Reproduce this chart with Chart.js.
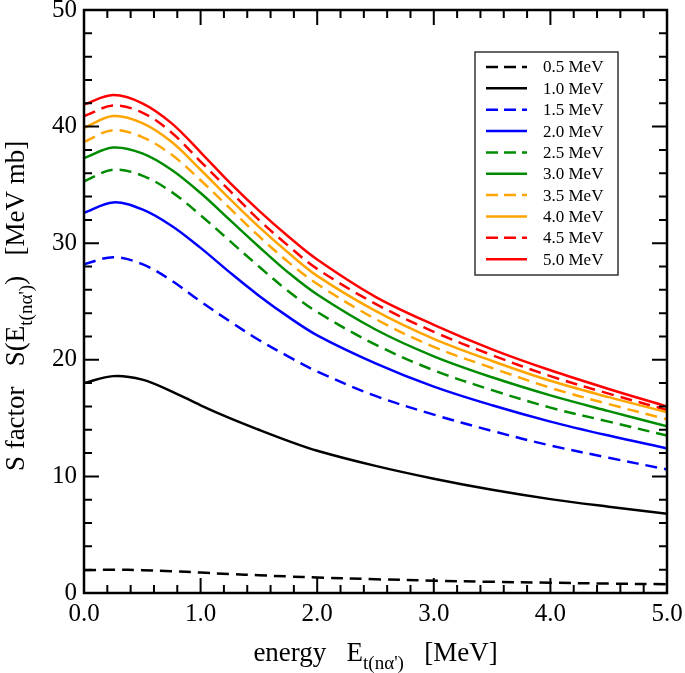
<!DOCTYPE html>
<html>
<head>
<meta charset="utf-8">
<script src="https://cdn.jsdelivr.net/npm/chart.js@4"></script>
<style>
html,body{margin:0;padding:0;background:#fff;}
#wrap{width:685px;height:673px;}
</style>
</head>
<body>
<div id="wrap"><canvas id="c" width="685" height="673"></canvas></div>
<script>
const energies = [0, 0.25, 0.5, 0.75, 1.0, 1.25, 1.5, 1.75, 2.0, 2.5, 3.0, 3.5, 4.0, 4.5, 5.0];
const seriesLabels = ['0.5 MeV','1.0 MeV','1.5 MeV','2.0 MeV','2.5 MeV','3.0 MeV','3.5 MeV','4.0 MeV','4.5 MeV','5.0 MeV'];
const s05 = [1.95, 2.0, 1.96, 1.87, 1.75, 1.63, 1.52, 1.42, 1.33, 1.18, 1.06, 0.96, 0.88, 0.81, 0.75];
const s10 = [18.0, 18.6, 18.3, 17.3, 16.1, 15.0, 14.0, 13.05, 12.2, 10.9, 9.8, 8.85, 8.05, 7.4, 6.8];
const s15 = [28.2, 28.8, 28.2, 26.8, 25.0, 23.3, 21.7, 20.3, 19.0, 16.9, 15.3, 13.9, 12.65, 11.6, 10.6];
const s20 = [32.6, 33.5, 32.9, 31.5, 29.6, 27.5, 25.5, 23.7, 22.1, 19.7, 17.7, 16.1, 14.7, 13.5, 12.4];
const s25 = [35.3, 36.3, 35.8, 34.4, 32.4, 30.2, 28.0, 25.9, 24.1, 21.3, 19.1, 17.4, 15.9, 14.7, 13.5];
const s30 = [37.3, 38.2, 37.7, 36.3, 34.3, 32.0, 29.7, 27.5, 25.6, 22.6, 20.3, 18.5, 16.95, 15.6, 14.3];
const s35 = [38.7, 39.7, 39.1, 37.6, 35.4, 33.0, 30.6, 28.4, 26.5, 23.5, 21.1, 19.3, 17.6, 16.2, 14.9];
const s40 = [39.9, 40.9, 40.3, 38.7, 36.3, 33.8, 31.4, 29.2, 27.2, 24.2, 21.8, 19.9, 18.2, 16.8, 15.5];
const s45 = [40.9, 41.8, 41.2, 39.5, 37.0, 34.5, 32.0, 29.8, 27.8, 24.8, 22.4, 20.4, 18.6, 17.1, 15.7];
const s50 = [41.9, 42.7, 42.0, 40.3, 37.8, 35.2, 32.8, 30.6, 28.6, 25.4, 23.0, 20.9, 19.1, 17.5, 16.0];
const yTicks = [0, 10, 20, 30, 40, 50];
const xTicks = [0, 1, 2, 3, 4, 5];

const GREEN = 'rgb(0,140,0)', ORANGE = 'rgb(255,165,0)';
const colors = ['#000000','#000000','#0000ff','#0000ff',GREEN,GREEN,ORANGE,ORANGE,'#ff0000','#ff0000'];
const dashed = [true,false,true,false,true,false,true,false,true,false];
const allSeries = [s05,s10,s15,s20,s25,s30,s35,s40,s45,s50];
const DASH = [12,7];
const SERIF = '"Liberation Serif", "DejaVu Serif", serif';

const datasets = allSeries.map((arr,i)=>({
  label: seriesLabels[i],
  data: energies.map((x,j)=>({x:x, y:arr[j]})),
  borderColor: colors[i],
  borderWidth: 2.5,
  borderDash: dashed[i] ? DASH : [],
  pointRadius: 0,
  fill: false,
  tension: 0.35
}));

function drawParts(ctx, parts, x, y, align, size, subSize, subDy) {
  let total = 0;
  parts.forEach(p=>{ ctx.font = (p.sub?subSize:size)+'px '+SERIF; p.w = ctx.measureText(p.t).width; total += p.w; });
  let cx = align==='center' ? x - total/2 : x;
  ctx.textBaseline = 'alphabetic';
  ctx.textAlign = 'left';
  parts.forEach(p=>{
    ctx.font = (p.sub?subSize:size)+'px '+SERIF;
    ctx.fillText(p.t, cx, y + (p.sub?subDy:0));
    cx += p.w;
  });
}

const decor = {
  id:'decor',
  afterDatasetsDraw(chart){
    const ctx = chart.ctx, a = chart.chartArea;
    const xs = chart.scales.x, ys = chart.scales.y;
    ctx.save();
    ctx.strokeStyle = '#000';
    ctx.lineWidth = 2.5;
    ctx.setLineDash([]);
    ctx.strokeRect(a.left, a.top, a.right-a.left, a.bottom-a.top);
    ctx.lineWidth = 2;
    for (let k=0;k<=25;k++){
      const px = xs.getPixelForValue(k*0.2);
      const len = (k%5===0)?15:8;
      ctx.beginPath();
      ctx.moveTo(px, a.bottom); ctx.lineTo(px, a.bottom-len);
      ctx.moveTo(px, a.top); ctx.lineTo(px, a.top+len);
      ctx.stroke();
    }
    for (let k=0;k<=25;k++){
      const py = ys.getPixelForValue(k*2);
      const len = (k%5===0)?15:8;
      ctx.beginPath();
      ctx.moveTo(a.left, py); ctx.lineTo(a.left+len, py);
      ctx.moveTo(a.right, py); ctx.lineTo(a.right-len, py);
      ctx.stroke();
    }
    // legend
    const lx0 = 475, ly0 = 52, lw = 143, lh = 223;
    ctx.fillStyle = '#fff';
    ctx.fillRect(lx0, ly0, lw, lh);
    ctx.lineWidth = 1.5;
    ctx.strokeStyle = '#333';
    ctx.strokeRect(lx0, ly0, lw, lh);
    for (let i=0;i<seriesLabels.length;i++){
      const yy = 67 + i*21.35;
      ctx.strokeStyle = colors[i];
      ctx.lineWidth = 2.5;
      ctx.setLineDash(dashed[i]?[12,6]:[]);
      ctx.beginPath(); ctx.moveTo(486, yy); ctx.lineTo(527, yy); ctx.stroke();
      ctx.setLineDash([]);
      ctx.fillStyle = '#000';
      ctx.font = '17px '+SERIF;
      ctx.textAlign = 'left'; ctx.textBaseline = 'middle';
      ctx.fillText(seriesLabels[i], 543, yy+1);
    }
    // axis titles
    ctx.fillStyle = '#000';
    drawParts(ctx, [{t:'energy   E'},{t:"t(nα')",sub:true},{t:'   [MeV]'}], (a.left+a.right)/2, 661, 'center', 27, 19, 8);
    ctx.save();
    ctx.translate(24, 306);
    ctx.rotate(-Math.PI/2);
    drawParts(ctx, [{t:'S factor   S(E'},{t:"t(nα')",sub:true},{t:')   [MeV mb]'}], 0, 0, 'center', 27, 19, 8);
    ctx.restore();
    ctx.restore();
  }
};

new Chart(document.getElementById('c'), {
  type:'line',
  data:{datasets},
  options:{
    responsive:false,
    animation:false,
    layout:{padding:{left:0, top:10, right:18, bottom:0}},
    plugins:{legend:{display:false}, tooltip:{enabled:false}},
    scales:{
      x:{
        type:'linear', min:0, max:5,
        afterBuildTicks(s){ s.ticks = xTicks.map(v=>({value:v})); },
        afterFit(s){ s.height = 80; s.paddingLeft = 0; s.paddingRight = 0; },
        grid:{display:false, drawTicks:false},
        border:{display:false},
        ticks:{color:'#000', font:{family:SERIF, size:25}, padding:6, maxRotation:0,
          callback:(v)=>Number(v).toFixed(1)}
      },
      y:{
        type:'linear', min:0, max:50,
        afterBuildTicks(s){ s.ticks = yTicks.map(v=>({value:v})); },
        afterFit(s){ s.width = 84; s.paddingTop = 0; s.paddingBottom = 0; },
        grid:{display:false, drawTicks:false},
        border:{display:false},
        ticks:{color:'#000', font:{family:SERIF, size:25}, padding:7,
          callback:(v)=>String(v)}
      }
    }
  },
  plugins:[decor]
});
</script>
</body>
</html>
